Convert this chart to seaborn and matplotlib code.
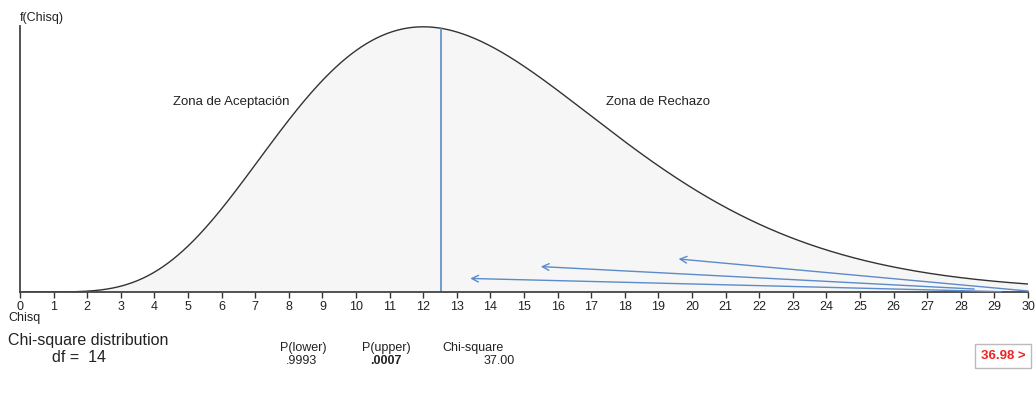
import math
import numpy as np
import pandas as pd
import matplotlib
matplotlib.use("Agg")
import matplotlib.pyplot as plt
import seaborn as sns

# ---- data ----
df_val = 14
x_min, x_max = 0, 30
tick_values = list(range(0, 31))
critical_x = 12.53
p_lower = ".9993"
p_upper = ".0007"
chi_square = "37.00"
box_text = "36.98 >"
arrow_heads_x = [13.4, 15.5, 19.6]
arrow_heads_y = [0.0041, 0.0077, 0.0100]
arrow_tails_x = [29.2, 28.4, 30.0]
arrow_tails_y = [0.0001, 0.0009, 0.0003]


def chi2_pdf(x, k):
    x = np.asarray(x, dtype=float)
    out = np.zeros_like(x)
    m = x > 0
    out[m] = x[m] ** (k / 2 - 1) * np.exp(-x[m] / 2) / (2 ** (k / 2) * math.gamma(k / 2))
    return out


xs = np.linspace(x_min, x_max, 600)
curve = pd.DataFrame({"x": xs, "y": chi2_pdf(xs, df_val)})

sns.set_theme(style="white")
plt.rcParams["font.family"] = ["Liberation Sans", "DejaVu Sans"]

W, H = 1036, 394
fig = plt.figure(figsize=(W / 100, H / 100), dpi=100)
ax = fig.add_axes([20 / W, (H - 292) / H, 1008 / W, (292 - 26) / H])

ax.fill_between(curve["x"], 0, curve["y"], color="#f6f6f6", linewidth=0)
sns.lineplot(data=curve, x="x", y="y", ax=ax, color="#333333", linewidth=1.0)
ax.plot([critical_x, critical_x], [0, chi2_pdf([critical_x], df_val)[0]],
        color="#5b8bc9", linewidth=1.2)

for hx, hy, tx, ty in zip(arrow_heads_x, arrow_heads_y, arrow_tails_x, arrow_tails_y):
    ax.annotate("", xy=(hx, hy), xytext=(tx, ty),
                arrowprops=dict(arrowstyle="->", color="#5b8bc9", lw=1.0,
                                mutation_scale=12, shrinkA=0, shrinkB=0))

ax.set_xlim(x_min, x_max)
ax.set_ylim(0, chi2_pdf([12.0], df_val)[0] * 1.003)
ax.set_xticks(tick_values)
ax.set_xticklabels([str(t) for t in tick_values], fontsize=9, color="#222222")
ax.set_yticks([])
ax.tick_params(axis="x", direction="out", length=4, width=1, color="#333333",
               pad=2.5, bottom=True)
for s in ["top", "right"]:
    ax.spines[s].set_visible(False)
for s in ["left", "bottom"]:
    ax.spines[s].set_color("#444444")
    ax.spines[s].set_linewidth(1.3)
ax.set_xlabel("")
ax.set_ylabel("")
ax.patch.set_alpha(0)

ax.text(4.55, 0.0576, "Zona de Aceptación", fontsize=9.5, color="#222222",
        ha="left", va="center")
ax.text(17.45, 0.0576, "Zona de Rechazo", fontsize=9.5, color="#222222",
        ha="left", va="center")


def ftext(px, py, s, **kw):
    fig.text(px / W, 1 - py / H, s, **kw)


ftext(20, 18, "f(Chisq)", fontsize=9, color="#222222", ha="left", va="center")
ftext(8, 318, "Chisq", fontsize=9, color="#222222", ha="left", va="center")
ftext(8, 341, "Chi-square distribution", fontsize=11.5, color="#222222", ha="left", va="center")
ftext(52, 357, "df =  14", fontsize=11.5, color="#222222", ha="left", va="center")
ftext(280, 348, "P(lower)", fontsize=9, color="#222222", ha="left", va="center")
ftext(286, 361, p_lower, fontsize=9, color="#222222", ha="left", va="center")
ftext(362, 348, "P(upper)", fontsize=9, color="#222222", ha="left", va="center")
ftext(370, 361, p_upper, fontsize=9, color="#222222", ha="left", va="center", fontweight="bold")
ftext(442, 348, "Chi-square", fontsize=9, color="#222222", ha="left", va="center")
ftext(515, 361, chi_square, fontsize=9, color="#222222", ha="right", va="center")

ftext(1003, 356, box_text, fontsize=9.5, color="#ee2222", ha="center", va="center",
      fontweight="bold",
      bbox=dict(boxstyle="square,pad=0.45", facecolor="white", edgecolor="#bbbbbb", linewidth=1))

fig.savefig("out.png", dpi=100)
